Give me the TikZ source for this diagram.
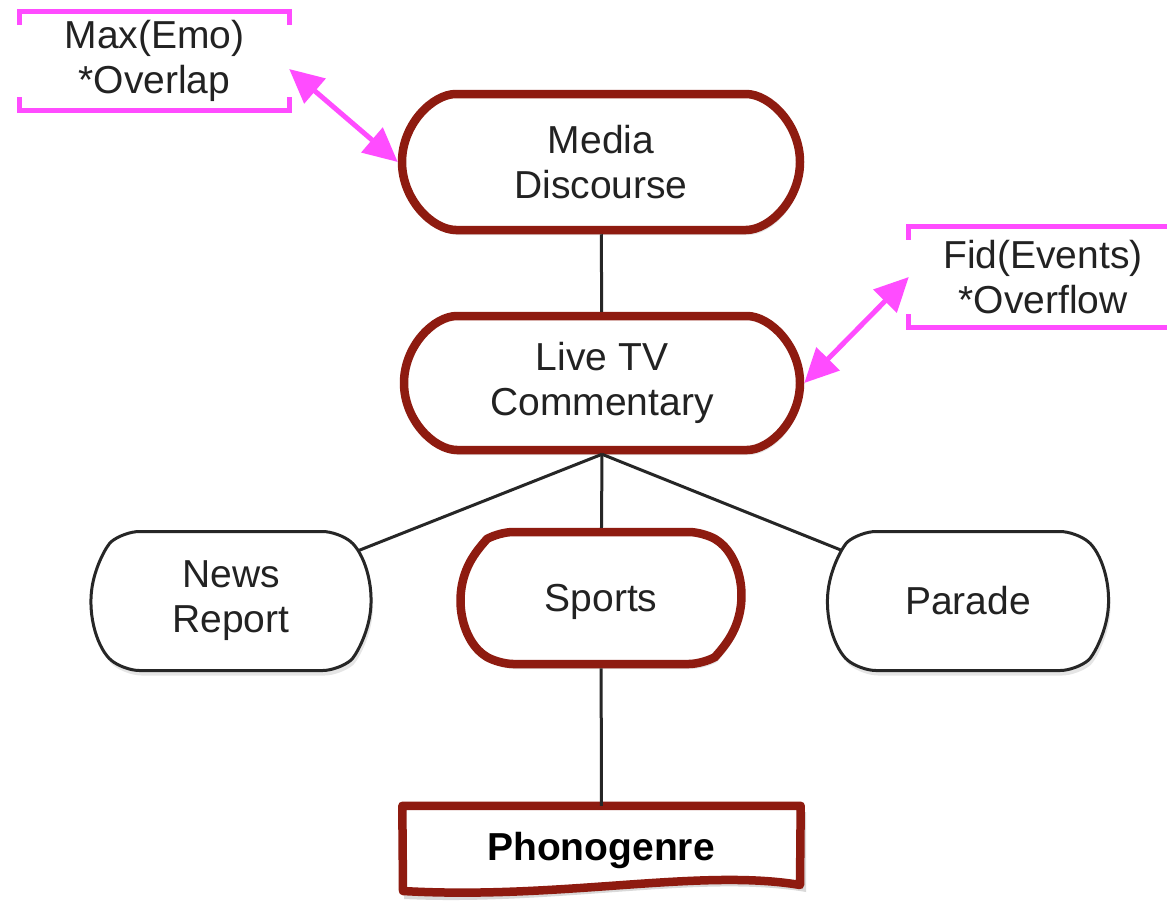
\documentclass[tikz,border=0pt]{standalone}
\usepackage{fontspec}
\setmainfont{Liberation Sans}
\usetikzlibrary{shapes.misc,arrows.meta,shadows}
\definecolor{dred}{HTML}{8E1B10}
\definecolor{mag}{HTML}{FF4CFF}
\definecolor{txt}{HTML}{222222}
\begin{document}
\begin{tikzpicture}[x=1pt,y=-1pt,
  lbl/.style={font=\fontsize{39}{45}\selectfont, text=txt, align=center},
  shad/.style={drop shadow={shadow xshift=2pt, shadow yshift=-5pt, opacity=0.2}},
  keynode/.style={lbl, shad, draw=dred, line width=8.5pt, fill=white, rounded rectangle, inner sep=0pt, rounded corners=14pt},
  plainnode/.style={lbl, shad, draw=black!85, line width=3pt, fill=white, rounded rectangle, inner sep=0pt, rounded corners=16pt},
  conn/.style={line width=3pt, draw=black!85},
  marrow/.style={draw=mag, line width=5pt, {Triangle[length=34pt,width=32pt]}-{Triangle[length=34pt,width=32pt]}},
  bracket/.style={draw=mag, line width=5pt}]
\useasboundingbox[fill=white] (0,0) rectangle (1167,902);

% main nodes
\node[keynode, minimum width=398pt, minimum height=136pt, rounded rectangle arc length=180] (md) at (601,162) {Media\\Discourse};
\node[keynode, minimum width=396pt, minimum height=134pt, rounded rectangle arc length=180] (lv) at (602,383) {Live TV\\Commentary};
\node[plainnode, minimum width=280pt, minimum height=139pt, rounded rectangle arc length=100] (nr) at (231,601) {News\\Report};
\node[keynode, minimum width=280pt, minimum height=132pt, rounded rectangle arc length=120, text depth=0pt] (sp) at (601,598) {Sports};
\node[plainnode, minimum width=281pt, minimum height=139pt, rounded rectangle arc length=100] (pa) at (968,601) {Parade};

% Phonogenre document shape
\node[lbl, minimum width=398pt, minimum height=78pt, inner sep=0pt] (ph) at (601.5,845) {};
\fill[black, opacity=0.15] (404,812) -- (806,812) -- (806,892) .. controls (700,874) and (560,906) .. (404,899) -- cycle;
\draw[dred, line width=8.5pt, fill=white, line join=round] (ph.north west) -- (ph.north east) -- (800,885) .. controls (700,868) and (560,900) .. (403,891) -- cycle;
\node[lbl, font=\fontsize{39}{45}\selectfont\bfseries, text=black] at (601,850) {Phonogenre};

% connectors
\draw[conn] (md) -- (lv);
\draw[conn] (lv.south) -- (nr);
\draw[conn] (lv.south) -- (sp);
\draw[conn] (lv.south) -- (pa);
\draw[conn] (sp) -- (ph);

% annotation boxes
\node[lbl, minimum width=269pt, minimum height=98pt, inner sep=0pt] (mx) at (154.5,61) {Max(Emo)\\*Overlap};
\draw[bracket] ([yshift=-13pt]mx.north west) -- (mx.north west) -- (mx.north east) -- ([yshift=-13pt]mx.north east);
\draw[bracket] ([yshift=13pt]mx.south west) -- (mx.south west) -- (mx.south east) -- ([yshift=13pt]mx.south east);

\node[lbl, minimum width=268pt, minimum height=100pt, inner sep=0pt] (fd) at (1043,277) {Fid(Events)\\*Overflow};
\draw[bracket] ([yshift=-13pt]fd.north west) -- (fd.north west) -- (fd.north east);
\draw[bracket] ([yshift=13pt]fd.south west) -- (fd.south west) -- (fd.south east);

% magenta double arrows
\draw[marrow] ([yshift=-8pt]mx.east) -- (md.west);
\draw[marrow] (lv.east) -- (fd.west);
\end{tikzpicture}
\end{document}
